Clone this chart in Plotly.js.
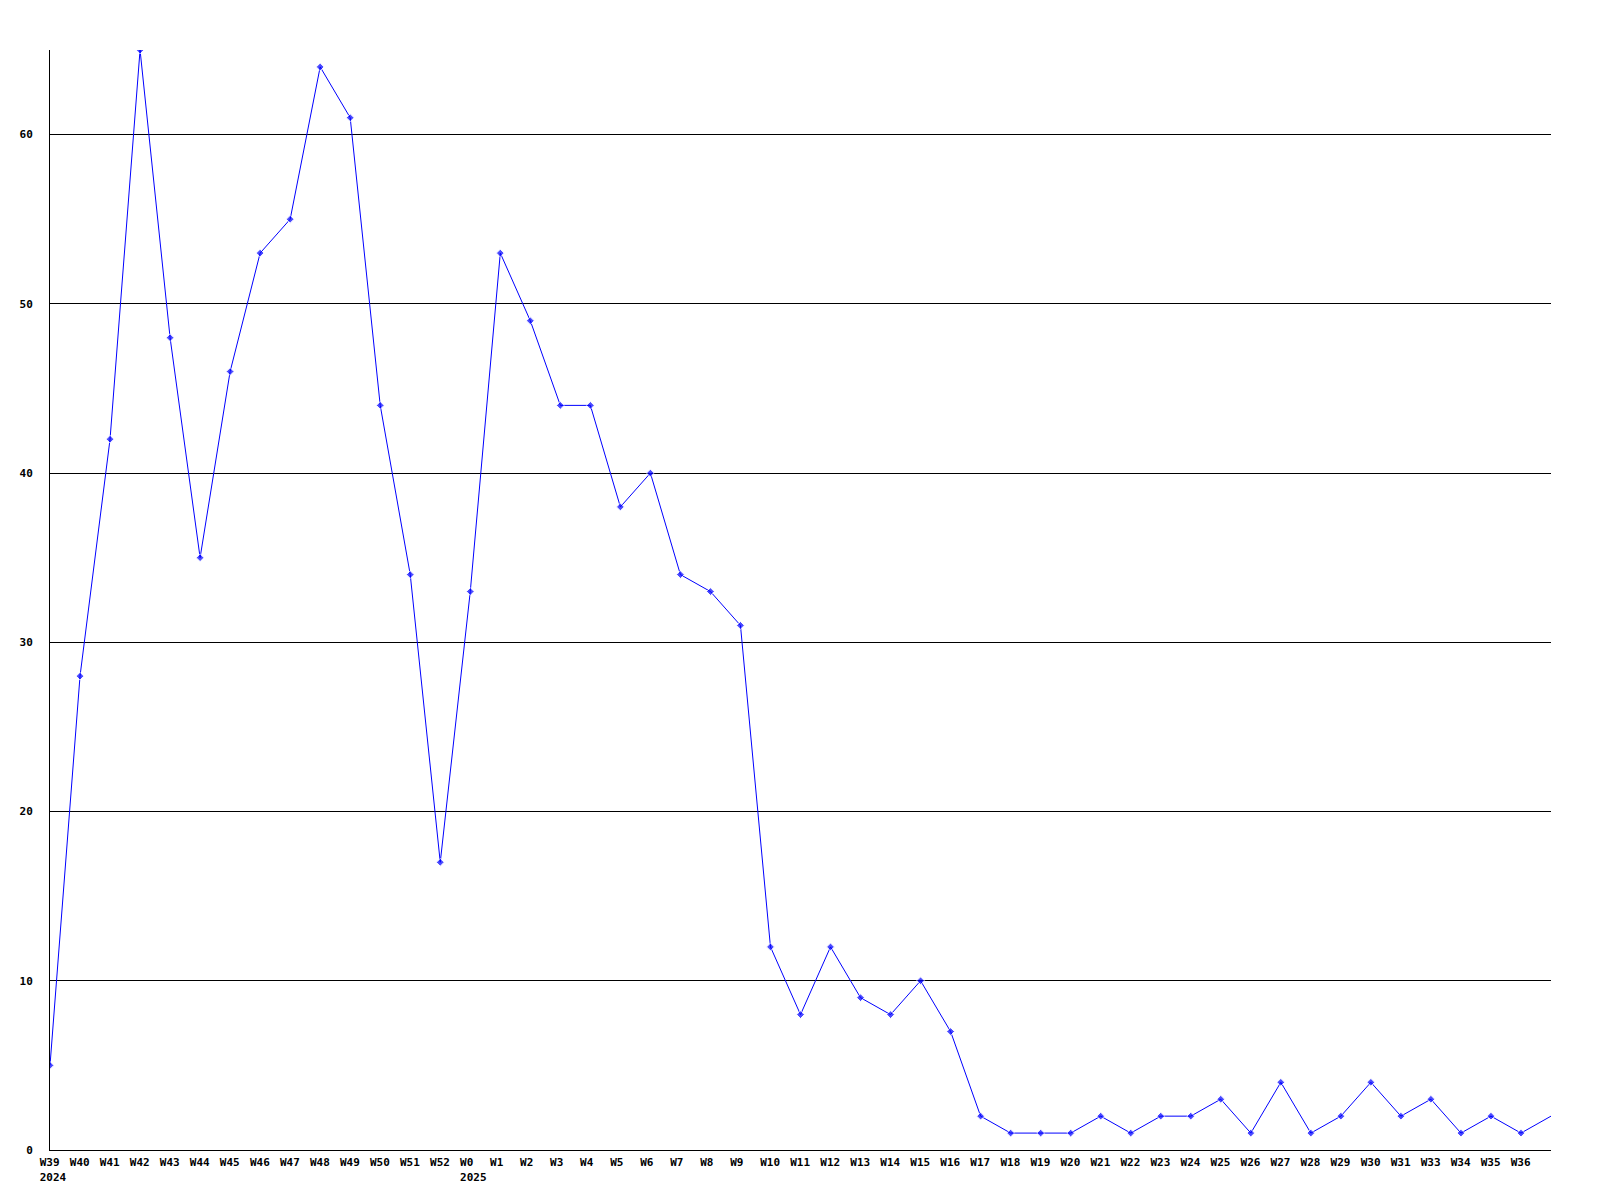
<!DOCTYPE html>
<html>
<head>
<meta charset="utf-8">
<script src="https://cdn.plot.ly/plotly-3.0.1.min.js"></script>
<style>html,body{margin:0;padding:0;background:#fff;}#chart{width:1600px;height:1200px;}</style>
</head>
<body>
<div id="chart"></div>
<script>
const weeks = ["W39","W40","W41","W42","W43","W44","W45","W46","W47","W48","W49","W50","W51","W52",
  "W0","W1","W2","W3","W4","W5","W6","W7","W8","W9","W10","W11","W12","W13","W14","W15","W16","W17",
  "W18","W19","W20","W21","W22","W23","W24","W25","W26","W27","W28","W29","W30","W31","W33","W34","W35","W36",""];
const years = {"W39":"2024","W0":"2025"};
const counts = [5,28,42,65,48,35,46,53,55,64,61,44,34,17,
  33,53,49,44,44,38,40,34,33,31,12,8,12,9,8,10,7,2,
  1,1,1,2,1,2,2,3,1,4,1,2,4,2,3,1,2,1,2];
const yTicks = [0,10,20,30,40,50,60];

const NB = "\u00A0";
function pad(s){ while (s.length < 4) s += NB; return s; }
const idx = weeks.map((w,i)=>i);
const tickText = weeks.map(w => w === "" ? "" : (years[w] ? pad(w) + "<br>" + years[w] : pad(w)));
const markerSizes = weeks.map(w => w === "" ? 0 : 6);

const font = {family: "DejaVu Sans Mono, monospace", size: 11, color: "#000", weight: "bold"};

Plotly.newPlot("chart", [{
  x: idx, y: counts, type: "scatter", mode: "lines+markers",
  line: {color: "#0000ff", width: 1},
  marker: {color: "#0000ff", size: markerSizes, symbol: "diamond"},
  cliponaxis: true, hoverinfo: "skip"
}], {
  width: 1600, height: 1200,
  margin: {l: 50, r: 49, t: 50, b: 50},
  paper_bgcolor: "#fff", plot_bgcolor: "#fff",
  showlegend: false,
  font: font,
  xaxis: {
    range: [0, idx.length - 1], tickvals: idx, ticktext: tickText, tickangle: 0,
    showgrid: false, zeroline: false, showline: true, linecolor: "#000", linewidth: 1,
    ticks: "", tickfont: font, ticklabelshift: 3, ticklabelstandoff: 2, fixedrange: true
  },
  yaxis: {
    range: [0, 65], tickvals: yTicks, ticktext: yTicks.map(String),
    showgrid: true, gridcolor: "#000", gridwidth: 1, zeroline: false,
    showline: true, linecolor: "#000", linewidth: 1,
    ticks: "", tickfont: font, ticklabelstandoff: 14, fixedrange: true
  }
}, {staticPlot: true});
</script>
</body>
</html>
